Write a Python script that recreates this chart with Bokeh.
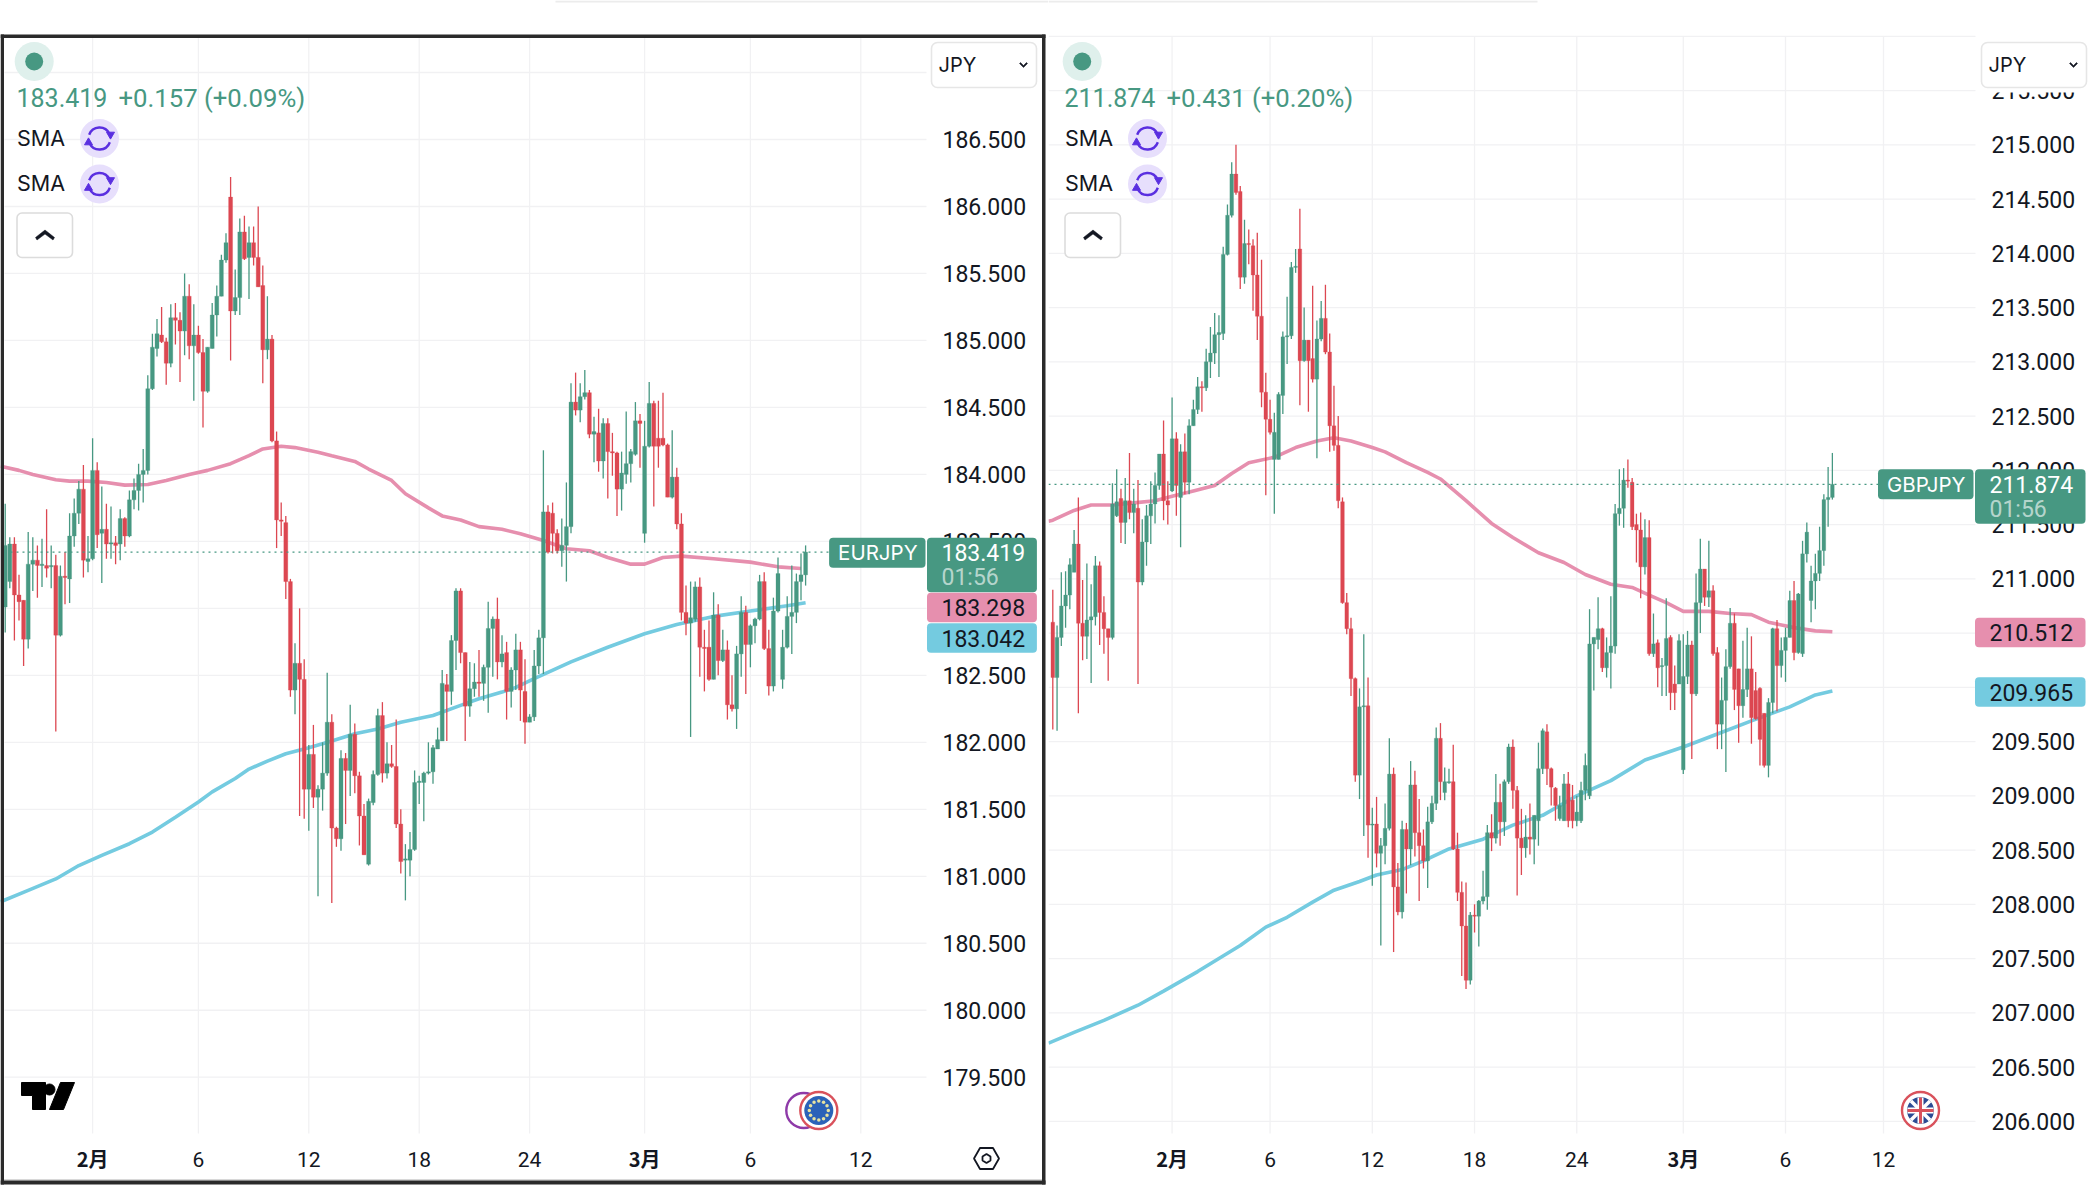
from bokeh.embed import file_html
from bokeh.layouts import row
from bokeh.models import (BoxAnnotation, ColumnDataSource, FixedTicker, Label, PolyAnnotation,
                          PrintfTickFormatter, Range1d)
from bokeh.plotting import figure
from bokeh.resources import INLINE
import math

# EURJPY candles
eur_open = [183.01,183.2,183.48,183.1,183.06,182.77,183.33,183.36,183.32,183.32,183.31,183.32,182.8,183.24,183.22,183.54,183.71,183.89,183.35,183.37,184.03,183.56,183.59,183.48,183.49,
    183.48,183.67,183.54,183.81,183.88,184.0,184.03,184.64,184.94,185.04,184.99,184.83,185.17,185.15,185.07,185.33,184.96,185.04,184.91,184.62,184.94,185.19,185.33,185.6,186.07,
    185.22,185.32,185.81,185.62,185.73,185.62,185.41,184.93,185.01,184.25,183.66,183.64,183.2,182.39,182.59,182.47,181.65,181.91,181.59,181.65,181.77,182.15,181.36,181.28,181.88,
    181.79,182.06,181.75,181.45,181.09,181.55,181.76,182.2,181.77,181.84,181.82,181.39,181.12,181.12,181.2,181.7,181.7,181.77,181.78,181.95,182.01,182.43,182.38,182.76,183.13,
    182.67,182.27,182.4,182.45,182.44,182.56,182.85,182.92,182.6,182.67,182.38,182.54,182.69,182.38,182.15,182.19,182.57,182.78,183.72,183.71,183.56,183.43,183.47,183.61,184.54,
    184.48,184.58,184.61,184.3,184.31,184.1,184.38,184.17,184.16,183.89,184.0,184.08,184.15,184.4,183.56,184.21,184.53,184.27,184.27,184.22,183.83,183.98,183.63,182.97,182.89,
    182.92,183.16,182.71,182.71,182.47,182.95,182.61,182.69,182.28,182.25,182.66,182.97,182.73,182.87,182.92,183.2,182.7,182.42,182.98,182.47,182.71,182.94,182.97,183.2,183.25]
eur_high = [183.78,183.53,183.53,183.25,183.06,183.57,183.53,183.47,183.52,183.74,183.47,183.4,183.32,183.42,183.71,183.82,183.95,184.07,183.54,184.27,184.09,183.91,183.78,183.76,183.54,
    183.74,183.68,183.88,183.97,184.08,184.19,184.74,185.05,185.16,185.25,185.02,185.27,185.28,185.21,185.5,185.42,185.27,185.11,185.01,184.95,185.28,185.41,185.64,185.8,186.22,
    185.53,185.91,185.93,185.85,185.85,186.0,185.56,185.33,185.04,184.32,183.79,183.69,183.22,182.74,183.0,182.62,181.98,182.13,181.68,182.0,182.52,182.21,181.37,181.94,181.92,
    182.28,182.14,181.78,181.54,181.58,181.79,182.25,182.3,182.0,181.98,182.17,181.5,181.24,181.33,181.79,181.75,181.78,182.0,181.98,182.11,182.54,182.51,182.8,183.15,183.15,
    182.67,182.6,182.59,182.69,182.58,183.05,182.94,183.08,182.8,182.75,182.56,182.81,182.75,182.62,182.21,182.69,182.84,184.18,183.77,183.79,183.59,183.67,183.94,184.68,184.76,
    184.68,184.78,184.63,184.43,184.49,184.42,184.42,184.31,184.17,184.17,184.47,184.19,184.54,184.45,184.4,184.69,184.55,184.55,184.61,184.23,184.33,184.05,183.71,183.17,183.2,
    183.2,183.23,182.84,182.91,183.12,183.03,182.84,182.76,182.5,182.72,183.09,183.02,182.88,182.93,183.25,183.27,182.84,183.08,183.38,182.84,183.09,183.32,183.26,183.41,183.47]
eur_low = [182.82,183.15,182.76,182.91,182.57,182.7,183.13,183.08,183.16,183.23,183.15,182.08,182.79,183.03,183.04,183.46,183.63,183.23,183.27,183.36,183.45,183.19,183.37,183.37,183.33,
    183.36,183.46,183.53,183.74,183.73,183.79,184.0,184.63,184.88,184.98,184.67,184.8,184.97,184.69,184.89,184.86,184.55,184.9,184.35,184.61,184.94,185.03,185.33,185.58,184.85,
    185.19,185.19,185.6,185.31,185.56,185.4,184.68,184.86,184.24,183.45,183.54,183.07,182.34,182.21,181.45,181.43,181.34,181.51,180.85,181.49,181.75,180.8,181.22,181.19,181.39,
    181.6,181.62,181.23,181.16,181.08,181.53,181.75,181.7,181.73,181.81,181.36,181.02,180.82,181.0,181.19,181.54,181.41,181.76,181.69,181.95,182.01,182.01,182.28,182.54,182.59,
    182.01,182.19,182.34,182.34,182.31,182.22,182.49,182.47,182.56,182.17,182.26,182.39,182.16,181.99,182.15,182.16,182.51,182.51,183.41,183.41,183.41,183.31,183.2,183.56,184.44,
    184.39,184.56,184.27,184.09,184.02,183.97,183.82,183.99,183.69,183.73,183.93,183.94,184.14,184.05,183.49,184.2,183.76,184.05,184.21,183.83,183.82,183.59,182.91,182.8,182.04,
    182.9,182.49,182.38,182.46,182.47,182.5,182.6,182.17,182.23,182.1,182.49,182.36,182.56,182.74,182.91,182.69,182.35,182.38,182.97,182.4,182.7,182.66,182.89,183.06,183.17]
eur_close = [183.47,183.48,183.1,183.05,182.77,183.33,183.36,183.32,183.33,183.3,183.32,182.8,183.24,183.23,183.54,183.71,183.89,183.36,183.37,184.03,183.55,183.59,183.48,183.49,183.47,
    183.67,183.54,183.81,183.88,184.0,184.03,184.64,184.95,185.05,184.99,184.83,185.17,185.15,185.07,185.33,184.96,185.04,184.91,184.62,184.95,185.19,185.33,185.6,185.73,185.22,
    185.32,185.81,185.61,185.73,185.62,185.4,184.93,185.01,184.25,183.66,183.65,183.2,182.39,182.59,182.47,181.65,181.91,181.59,181.65,181.77,182.15,181.36,181.28,181.88,181.79,
    182.06,181.75,181.45,181.16,181.56,181.76,182.2,181.77,181.84,181.82,181.39,181.11,181.13,181.2,181.7,181.71,181.77,181.78,181.96,182.02,182.44,182.38,182.76,183.13,182.67,
    182.27,182.4,182.45,182.44,182.56,182.85,182.92,182.6,182.66,182.38,182.54,182.69,182.39,182.15,182.19,182.57,182.78,183.72,183.42,183.56,183.43,183.47,183.61,184.54,184.48,
    184.58,184.61,184.3,184.32,184.1,184.38,184.17,184.16,183.89,184.01,184.08,184.17,184.4,184.38,184.21,184.53,184.21,184.21,184.22,183.83,183.98,183.63,182.97,182.89,182.93,
    183.16,182.71,182.7,182.47,182.95,182.61,182.69,182.28,182.25,182.66,182.97,182.73,182.87,182.92,183.2,182.7,182.42,182.98,183.26,182.71,182.94,182.97,183.2,183.25,183.42]
eur_pink_at = [-1,3,6,11,14,18,22,26,31,35,40,44,49,53,56,60,63,68,71,76,79,84,87,92,95,99,103,108,112,117,122,127,131,136,139,143,147,154,162,168,173]
eur_pink = [184.06,184.03,184.0,183.96,183.95,183.95,183.94,183.92,183.925,183.955,184.0,184.03,184.08,184.14,184.19,184.21,184.2,184.166,184.14,184.097,184.04,183.955,183.855,183.75,183.69,183.66,183.61,183.59,183.557,183.507,183.445,183.43,183.38,183.33,183.33,183.38,183.39,183.37,183.345,183.31,183.298]
eur_blue_at = [-1,5,11,16,21,27,32,37,42,45,50,53,57,61,66,71,76,81,86,93,99,103,108,111,115,123,131,139,146,154,162,170,174]
eur_blue = [180.81,180.895,180.98,181.08,181.156,181.243,181.33,181.44,181.554,181.63,181.73,181.8,181.86,181.915,181.96,182.01,182.064,182.1,182.15,182.2,182.276,182.325,182.375,182.41,182.475,182.6,182.71,182.81,182.88,182.94,182.98,183.02,183.042]
eur_price_ticks = [179.5,180.0,180.5,181.0,181.5,182.0,182.5,183.0,183.5,184.0,184.5,185.0,185.5,186.0,186.5]
eur_day_ticks = [42,66,90,114,162,186]
eur_month_ticks = [19,139]

# GBPJPY candles
gbp_open = [210.6,210.09,210.46,210.75,210.85,211.06,211.32,210.59,210.47,210.62,210.65,211.12,210.69,210.54,210.46,211.58,211.74,211.52,211.72,211.61,211.65,210.97,211.34,211.58,211.69,
    211.86,212.15,211.72,211.81,212.29,211.75,212.17,211.89,212.41,212.56,212.77,212.76,213.0,213.08,213.25,213.26,213.99,214.35,214.73,214.57,213.78,214.09,214.07,213.8,213.42,
    212.72,212.47,212.1,212.1,212.69,213.23,213.24,213.87,214.04,213.01,213.2,213.03,212.84,213.21,213.4,213.09,212.41,212.23,211.71,210.78,210.54,210.08,209.19,209.82,209.83,
    208.73,208.74,208.47,208.54,208.7,209.2,208.16,207.93,208.69,208.51,209.1,208.66,208.54,208.4,208.76,208.93,209.53,209.03,209.12,209.13,208.51,208.11,207.8,207.3,207.9,
    207.89,208.03,208.07,208.66,208.61,208.94,208.76,209.13,209.45,209.05,208.61,208.52,208.62,208.6,208.77,209.25,209.59,209.25,209.07,208.79,208.77,209.11,208.96,208.77,208.77,
    209.05,209.0,210.4,210.44,210.54,210.18,210.32,210.38,211.6,211.65,211.91,211.89,211.5,211.45,211.11,211.38,210.31,210.41,210.19,210.2,210.46,210.03,210.03,209.24,210.1,
    210.39,209.94,210.78,211.09,210.83,210.89,210.32,209.66,209.88,210.19,210.59,210.17,209.83,209.98,210.17,209.97,209.99,209.76,209.28,209.86,210.54,210.2,210.34,210.46,210.8,
    210.32,210.31,211.23,210.8,210.98,211.05,211.26,211.73,211.75]
gbp_high = [210.9,210.57,211.06,211.07,211.19,211.45,211.75,210.99,211.14,210.95,211.21,211.16,210.84,210.54,211.88,212.01,211.83,211.93,212.16,211.83,211.91,211.55,211.68,211.9,211.98,
    212.15,212.46,211.9,212.67,212.35,212.24,212.34,212.47,212.65,212.86,212.82,213.12,213.32,213.45,213.43,214.06,214.45,214.84,215.0,214.62,214.31,214.22,214.13,214.19,213.94,
    212.9,212.65,212.53,212.72,213.28,213.6,213.92,214.04,214.41,213.5,213.2,213.7,213.38,213.56,213.71,213.26,212.78,212.5,211.75,210.87,210.64,210.09,209.99,210.49,210.09,
    208.89,208.99,208.61,208.93,209.53,209.26,208.38,208.77,208.75,209.32,209.23,208.97,208.69,208.9,209.0,209.63,209.67,209.26,209.25,209.47,208.66,208.21,208.2,207.93,208.0,
    208.04,208.31,208.73,208.83,209.2,209.11,209.15,209.48,209.52,209.09,208.88,208.82,208.93,208.82,209.49,209.62,209.66,209.26,209.08,209.0,209.2,209.22,209.1,209.0,209.13,
    209.39,210.72,210.46,210.83,210.55,210.46,210.84,211.69,212.01,212.02,212.1,211.93,211.6,211.61,211.55,211.54,210.68,210.44,210.27,210.82,210.48,210.2,210.49,210.49,210.52,
    210.43,211.05,211.37,211.09,211.35,210.94,210.37,210.09,210.35,210.73,210.68,210.17,210.43,210.55,210.47,210.14,210.0,209.76,209.9,210.55,210.62,210.46,210.55,210.89,210.98,
    210.87,211.35,211.52,211.12,211.23,211.48,211.78,212.03,212.16]
gbp_low = [209.61,209.6,210.38,210.55,210.72,211.06,209.76,210.25,210.26,210.04,210.57,210.39,210.31,210.06,210.44,211.57,211.33,211.32,211.55,211.42,210.03,210.94,211.12,211.32,211.51,
    211.82,211.54,211.5,211.8,211.58,211.29,211.78,211.78,212.41,212.52,212.54,212.73,212.85,212.98,212.86,213.2,213.98,214.33,214.54,213.67,213.72,213.9,213.47,213.2,212.58,
    211.77,212.33,211.6,212.1,212.52,212.98,213.21,213.82,212.6,213.0,212.54,212.81,212.11,213.19,213.07,212.17,212.18,211.65,210.77,210.49,209.92,209.13,208.97,208.63,208.43,
    208.17,208.34,207.62,208.37,208.68,207.56,207.9,207.87,208.1,208.36,208.44,208.03,208.33,208.15,208.74,208.87,208.96,208.96,209.11,208.5,208.03,207.34,207.22,207.26,207.74,
    207.61,208.0,207.95,208.49,208.56,208.54,208.63,209.11,208.88,208.08,208.27,208.43,208.46,208.37,208.54,209.2,209.1,208.91,208.77,208.77,208.77,208.71,208.7,208.72,208.75,
    208.96,208.97,209.97,210.35,210.14,210.09,209.99,210.31,211.49,211.47,211.84,211.45,211.15,210.82,211.04,210.29,210.28,210.0,209.92,209.92,209.79,209.79,210.03,209.2,210.03,
    209.34,209.92,210.5,210.75,210.74,210.29,209.43,209.43,209.22,210.17,209.79,209.49,209.72,209.91,209.48,209.7,209.28,209.26,209.17,209.76,209.78,210.09,210.05,210.46,210.25,
    210.31,210.28,211.15,210.6,210.72,210.98,211.12,211.48,211.73]
gbp_close = [210.09,210.46,210.75,210.85,211.13,211.32,210.59,210.47,210.62,210.65,211.12,210.69,210.54,210.46,211.69,211.71,211.52,211.72,211.61,211.69,210.97,211.34,211.58,211.69,211.86,
    212.15,211.72,211.68,212.29,211.86,212.17,211.89,212.41,212.56,212.77,212.76,213.0,213.08,213.25,213.27,213.99,214.35,214.73,214.56,213.78,214.09,214.08,213.8,213.42,212.72,
    212.47,212.35,212.35,212.7,213.23,213.24,213.87,213.88,213.01,213.2,213.01,212.84,213.21,213.4,213.09,212.41,212.23,211.72,210.78,210.54,210.08,209.19,209.82,209.83,208.73,
    208.74,208.47,208.54,208.7,209.2,208.16,207.93,208.69,208.51,209.1,208.66,208.54,208.4,208.76,208.93,209.53,209.13,209.13,209.13,208.51,208.11,207.8,207.3,207.9,207.89,
    208.03,208.07,208.66,208.61,208.94,208.76,209.13,209.45,209.05,208.61,208.52,208.62,208.6,208.82,209.25,209.6,209.25,209.08,208.91,208.91,209.11,208.77,208.77,208.85,209.05,
    209.28,210.4,210.46,210.54,210.18,210.32,210.38,211.6,211.65,211.91,211.9,211.48,211.45,211.11,211.38,210.31,210.4,210.18,210.2,210.45,209.95,209.95,210.43,210.1,210.39,
    209.94,210.78,211.09,210.83,210.89,210.31,209.66,209.88,210.19,210.59,209.98,209.83,209.98,210.17,209.72,209.71,209.52,209.28,209.86,210.54,210.2,210.34,210.46,210.8,210.32,
    210.86,211.23,211.43,210.98,211.05,211.26,211.73,211.75,211.87]
gbp_pink_at = [-1,0,5,9,14,19,24,28,33,38,42,46,52,57,62,66,70,75,78,83,88,91,97,103,108,114,120,125,131,136,140,144,148,154,159,164,168,174,179,183]
gbp_pink = [211.53,211.54,211.63,211.68,211.68,211.7,211.72,211.76,211.81,211.86,211.97,212.07,212.12,212.21,212.27,212.3,212.27,212.21,212.17,212.07,211.98,211.92,211.72,211.51,211.38,211.24,211.15,211.04,210.95,210.92,210.85,210.78,210.7,210.7,210.68,210.67,210.6,210.55,210.52,210.512]
gbp_blue_at = [-1,5,12,20,26,34,39,44,50,55,61,66,72,76,82,87,93,101,108,115,123,131,139,148,156,164,173,179,183]
gbp_blue = [206.72,206.82,206.93,207.07,207.2,207.38,207.5,207.62,207.79,207.88,208.02,208.13,208.21,208.27,208.32,208.4,208.51,208.6,208.73,208.82,209.0,209.14,209.33,209.45,209.57,209.69,209.82,209.93,209.965]
gbp_price_ticks = [206.0,206.5,207.0,207.5,208.0,208.5,209.0,209.5,210.0,210.5,211.0,211.5,212.0,212.5,213.0,213.5,214.0,214.5,215.0,215.5]
gbp_day_ticks = [51,75,99,123,172,195]
gbp_month_ticks = [28,148]

GREEN = "#479882"
RED = "#dc4751"
PINK = "#e68fae"
BLUE = "#74cbe0"
BLACK = "#131722"
FONT = "Inter"
NUM_FONT = "Roboto"


def box(p, ox, left, top, right, bottom, color="white", line=None, radius=0, line_width=1):
    p.add_layout(BoxAnnotation(left=left - ox, right=right - ox, top=top, bottom=bottom,
                               left_units="canvas", right_units="canvas", top_units="canvas", bottom_units="canvas",
                               fill_color=color, fill_alpha=1, line_color=line, line_alpha=1, line_width=line_width,
                               border_radius=radius, level="annotation"))


def text(p, ox, x, y, txt, color=BLACK, size=21, font=FONT, style="normal", align="left", alpha=1):
    p.add_layout(Label(x=x - ox, y=y, x_units="canvas", y_units="canvas", text=txt, text_color=color,
                       text_alpha=alpha, text_font=font, text_font_size=f"{size}px", text_font_style=style,
                       text_align=align, text_baseline="middle"))


def poly(p, ox, xs, ys, fill=BLACK, fill_alpha=1, line_width=0.5):
    p.add_layout(PolyAnnotation(xs=[x - ox for x in xs], ys=ys, xs_units="canvas", ys_units="canvas",
                                fill_color=fill, fill_alpha=fill_alpha, line_color=BLACK, line_alpha=1,
                                line_width=line_width))


def sync_icon(p, ox, cx, cy):
    kw = dict(x_range_name="px", y_range_name="px")
    cx = cx - ox
    p.scatter([cx], [cy], size=39, color="#e7dffc", line_color=None, **kw)
    p.arc([cx], [cy], radius=11, start_angle=math.radians(25), end_angle=math.radians(160),
          line_color="#5a2fe0", line_width=2.4, **kw)
    p.arc([cx], [cy], radius=11, start_angle=math.radians(205), end_angle=math.radians(340),
          line_color="#5a2fe0", line_width=2.4, **kw)
    p.scatter([cx + 11, cx - 11], [cy - 4, cy + 4], marker="triangle", size=8, color="#5a2fe0",
              angle=[math.pi, 0], **kw)


def legend_block(p, ox, dx, price, change):
    kw = dict(x_range_name="px", y_range_name="px")
    p.scatter([33.7 + dx - ox], [61], size=39, color="#dff0ec", line_color=None, **kw)
    p.scatter([33.7 + dx - ox], [61], size=18, color=GREEN, line_color=None, **kw)
    text(p, ox, 16 + dx, 97, price, color=GREEN, size=25, font=NUM_FONT)
    text(p, ox, 118 + dx, 97, change, color=GREEN, size=25.7, font=NUM_FONT)
    for y, icon_y in ((137, 138), (182.5, 183.5)):
        text(p, ox, 16.5 + dx, y, "SMA", size=21.5)
        sync_icon(p, ox, 99 + dx, icon_y)
    box(p, ox, 16.5 + dx, 212.5, 72 + dx, 257, color="white", line="#dcdcdc", radius=5, line_width=1.6)
    xs = [35 + dx, 44.5 + dx, 54 + dx, 52.5 + dx, 44.5 + dx, 36.5 + dx]
    poly(p, ox, xs, [237, 229.5, 237, 239.5, 233.5, 239.5])


def uk_flag(p, ox, cx, cy):
    kw = dict(x_range_name="px", y_range_name="px")
    cx = cx - ox
    p.scatter([cx], [cy], size=37, color="white", line_color="#d9525c", line_width=2.4, **kw)
    p.scatter([cx], [cy], size=27, color="#2c4b94", line_color=None, **kw)
    d = 9.5
    p.segment([cx - d, cx - d], [cy - d, cy + d], [cx + d, cx + d], [cy + d, cy - d], line_color="white", line_width=3.5, **kw)
    p.segment([cx - 13, cx], [cy, cy - 13], [cx + 13, cx], [cy, cy + 13], line_color="white", line_width=6, **kw)
    p.segment([cx - 13, cx], [cy, cy - 13], [cx + 13, cx], [cy, cy + 13], line_color="#d9525c", line_width=3, **kw)


def eu_flag(p, cx, cy):
    kw = dict(x_range_name="px", y_range_name="px")
    p.scatter([cx - 15], [cy], size=35, color="white", line_color="#8e3aa8", line_width=2.4, **kw)
    p.scatter([cx], [cy], size=37, color="white", line_color="#d9525c", line_width=2.4, **kw)
    p.scatter([cx], [cy], size=29, color="#2b62b8", line_color=None, **kw)
    for k in range(12):
        a = k * math.pi / 6
        p.scatter([cx + 9.5 * math.cos(a)], [cy + 9.5 * math.sin(a)], size=3.5, color="#e7e3a0", line_color=None, **kw)


def panel(opens, highs, lows, closes, pink_at, pink, blue_at, blue, price_ticks, grid_prices, day_ticks, month_ticks,
          x_first, x_step, ref_price, ref_y, y_scale, fig_x, width, frame_left, frame_right, frame_top, line_end):
    def to_x(px):
        return (px - x_first) / x_step

    def to_y(py):
        return ref_price - (py - ref_y) / y_scale

    p = figure(width=width, height=1187, x_range=Range1d(to_x(fig_x), to_x(fig_x + width)),
               y_range=Range1d(to_y(1187), to_y(0)), tools="", y_axis_location="right", output_backend="svg",
               toolbar_location=None, outline_line_color=None, min_border=0)
    p.extra_x_ranges["px"] = Range1d(0, width)
    p.extra_y_ranges["px"] = Range1d(1187, 0)

    p.grid.visible = False
    xleft, xright = to_x(frame_left), to_x(frame_right)
    ytop, ybottom = to_y(frame_top), to_y(1133)
    p.segment([xleft] * len(grid_prices), grid_prices, [xright] * len(grid_prices), grid_prices,
              line_color="#f1f1f3", line_width=1.3, level="underlay")
    all_days = day_ticks + month_ticks
    p.segment(all_days, [ytop] * len(all_days), all_days, [ybottom] * len(all_days),
              line_color="#f1f1f3", line_width=1.3, level="underlay")

    p.xaxis.fixed_location = ybottom
    p.yaxis.fixed_location = xright
    p.xaxis.ticker = FixedTicker(ticks=day_ticks)
    p.yaxis.ticker = FixedTicker(ticks=price_ticks)
    p.yaxis.formatter = PrintfTickFormatter(format="%.3f")
    p.xaxis.major_label_overrides = {t: str(v) for t, v in zip(day_ticks, ["6", "12", "18", "24", "6", "12"])}
    for axis in (p.xaxis, p.yaxis):
        axis.axis_line_color = None
        axis.major_tick_line_color = None
        axis.minor_tick_line_color = None
        axis.major_label_text_font = NUM_FONT
        axis.major_label_text_color = BLACK
    p.yaxis.major_label_text_font_size = "23px"
    p.xaxis.major_label_text_font_size = "21px"
    p.xaxis.major_label_standoff = 12
    p.yaxis.major_label_standoff = 10

    p.line(pink_at, pink, line_color=PINK, line_width=3.6)
    p.line(blue_at, blue, line_color=BLUE, line_width=3.6)

    colors = [GREEN if c >= o else RED for o, c in zip(opens, closes)]
    source = ColumnDataSource(dict(
        x=list(range(len(closes))), high=highs, low=lows, color=colors,
        top=[max(o, c) for o, c in zip(opens, closes)], bottom=[min(o, c) for o, c in zip(opens, closes)],
    ))
    p.segment("x", "low", "x", "high", source=source, line_color="color", line_width=1.3)
    p.vbar("x", 0.86, "bottom", "top", source=source, fill_color="color", line_color="color", line_width=0.3)

    last = closes[-1]
    p.line([xleft, to_x(line_end)], [last, last], line_color=GREEN, line_width=1.4, line_dash=[2, 4])
    return p


def tags(p, ox, name, left, mid, right, y0, ypink, yblue, price, sma1, sma2):
    box(p, ox, left, y0, mid, y0 + 30, color=GREEN, radius=4)
    text(p, ox, left + 9, y0 + 15, name, color="white", size=20.5)
    box(p, ox, mid + 1.5, y0, right, y0 + 54.5, color=GREEN, radius=4)
    text(p, ox, mid + 16, y0 + 15, price, color="white", size=23, font=NUM_FONT)
    text(p, ox, mid + 16, y0 + 40, "01:56", color="white", size=23, font=NUM_FONT, alpha=0.62)
    box(p, ox, mid + 1.5, ypink, right, ypink + 29.5, color=PINK, radius=4)
    text(p, ox, mid + 16, ypink + 15, sma1, size=23, font=NUM_FONT)
    box(p, ox, mid + 1.5, yblue, right, yblue + 29.5, color=BLUE, radius=4)
    text(p, ox, mid + 16, yblue + 15, sma2, size=23, font=NUM_FONT)


def jpy_box(p, ox, left):
    box(p, ox, left, 42, left + 105, 87, color="white", line="#e6e6e6", radius=6, line_width=1.6)
    text(p, ox, left + 7, 64, "JPY", size=20)
    cx = left + 92
    poly(p, ox, [cx - 4, cx - 3, cx, cx + 3, cx + 4, cx], [63, 62, 65, 62, 63, 67])


def month_labels(p, ticks):
    for m, t in zip(["2月", "3月"], ticks):
        p.add_layout(Label(x=t, y=1158, x_units="data", y_units="canvas", text=m, text_color=BLACK, text_align="center",
                           text_baseline="middle", text_font="Noto Sans CJK JP", text_font_style="bold", text_font_size="20px"))


# left chart
p1 = panel(eur_open, eur_high, eur_low, eur_close, eur_pink_at, eur_pink, eur_blue_at, eur_blue, eur_price_ticks,
           eur_price_ticks + [187.0], eur_day_ticks, eur_month_ticks,
           4.7, 4.6, 186.5, 139, 133.96, 0, 1048, 4, 926, 37, 829)
legend_block(p1, 0, 0, "183.419", "+0.157 (+0.09%)")
eu_flag(p1, 818.3, 1110)
p1.patch([21, 45, 45, 32, 32, 21], [1082, 1082, 1109, 1109, 1095, 1095], color="#000000", x_range_name="px", y_range_name="px")
p1.scatter([49], [1089], size=11, color="#000000", x_range_name="px", y_range_name="px")
p1.patch([60, 74, 63, 49], [1082, 1082, 1109, 1109], color="#000000", x_range_name="px", y_range_name="px")
tags(p1, 0, "EURJPY", 828.6, 925, 1036.4, 537.3, 592.3, 622.7, "183.419", "183.298", "183.042")
jpy_box(p1, 0, 931)
month_labels(p1, eur_month_ticks)
poly(p1, 0, [973.5, 979.5, 992.5, 998.5, 992.5, 979.5], [1158, 1147.5, 1147.5, 1158, 1168.5, 1168.5], fill_alpha=0, line_width=1.8)
poly(p1, 0, [982, 986, 990, 990, 986, 982], [1156, 1153.5, 1156, 1160, 1162.5, 1160], fill_alpha=0, line_width=1.8)
box(p1, 0, 555, 0, 1048, 2, color="#ececec")
box(p1, 0, 3, 1178.5, 1042, 1180, color="#d8d8d8")
# black selection frame around the left chart
box(p1, 0, 0, 34, 1045, 37.5, color="#2a2a2a")
box(p1, 0, 0, 34, 3.5, 1184, color="#2a2a2a")
box(p1, 0, 1041.5, 34, 1045, 1184, color="#2a2a2a")
box(p1, 0, 0, 1180, 1045, 1184, color="#2a2a2a")

# right chart
OX = 1048
p2 = panel(gbp_open, gbp_high, gbp_low, gbp_close, gbp_pink_at, gbp_pink, gbp_blue_at, gbp_blue, gbp_price_ticks,
           gbp_price_ticks + [216.0], gbp_day_ticks, gbp_month_ticks,
           1052.3, 4.26, 211.0, 578.3, 108.5, OX, 1046, 1048, 1975, 36, 1878)
legend_block(p2, OX, 1048, "211.874", "+0.431 (+0.20%)")
uk_flag(p2, OX, 1920, 1110)
tags(p2, OX, "GBPJPY", 1877.5, 1973, 2085, 468.7, 617.3, 676.7, "211.874", "210.512", "209.965")
box(p2, OX, 1976, 0, 2094, 92, color="white")
box(p2, OX, 1048, 0, 1537, 2, color="#ececec")
jpy_box(p2, OX, 1981)
month_labels(p2, gbp_month_ticks)

layout = row(p1, p2, spacing=0, styles={"position": "absolute", "left": "0px", "top": "0px"})

open("out.html", "w").write(file_html(layout, INLINE))
